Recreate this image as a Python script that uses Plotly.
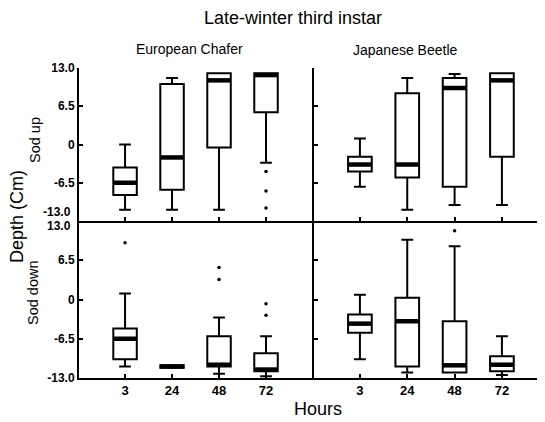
import plotly.graph_objects as go
from plotly.subplots import make_subplots

# categories
hours = ["3", "24", "48", "72"]
pos = [1, 2, 3, 4]
y_tickvals = [-13, -6.5, 0, 6.5, 13]
y_ticktext = ["-13.0", "-6.5", "0", "6.5", "13.0"]

# European Chafer, sod up
ec_up_q1 = [-8.6, -7.7, -0.5, 5.5]
ec_up_med = [-6.5, -2.2, 10.9, 11.8]
ec_up_q3 = [-3.9, 10.3, 12.1, 12.1]
ec_up_lo = [-11.1, -11.1, -11.1, -3.1]
ec_up_hi = [0.0, 11.3, 12.1, 12.1]
ec_up_out_x = [4, 4, 4]
ec_up_out_y = [-4.6, -7.9, -10.8]

# Japanese Beetle, sod up
jb_up_q1 = [-4.6, -5.6, -7.2, -2.1]
jb_up_med = [-3.4, -3.4, 9.6, 10.9]
jb_up_q3 = [-2.1, 8.7, 11.3, 12.1]
jb_up_lo = [-7.2, -11.1, -10.3, -10.3]
jb_up_hi = [1.0, 11.3, 12.0, 12.1]

# European Chafer, sod down
ec_dn_q1 = [-9.9, -11.3, -11.1, -11.9]
ec_dn_med = [-6.5, -11.1, -10.8, -11.6]
ec_dn_q3 = [-4.8, -10.9, -6.1, -8.9]
ec_dn_lo = [-11.1, -11.3, -12.3, -12.7]
ec_dn_hi = [1.0, -10.9, -3.0, -6.1]
ec_dn_out_x = [1, 3, 3, 4, 4]
ec_dn_out_y = [9.4, 5.3, 3.3, -0.7, -2.6]

# Japanese Beetle, sod down
jb_dn_q1 = [-5.5, -11.1, -12.1, -11.9]
jb_dn_med = [-4.0, -3.6, -10.9, -10.8]
jb_dn_q3 = [-2.5, 0.3, -3.6, -9.4]
jb_dn_lo = [-9.9, -12.1, -12.1, -12.5]
jb_dn_hi = [0.8, 9.9, 8.8, -6.1]
jb_dn_out_x = [3]
jb_dn_out_y = [11.4]

# the page body adds an 8px margin, so the figure is drawn 8px smaller
PAGE_OFF = 8
W, H = 545 - PAGE_OFF, 422 - PAGE_OFF
L, R, T, B = 79 - PAGE_OFF, 0, 68 - PAGE_OFF, 44
PW, PH = W - L - R, H - T - B
FONT = "Liberation Sans, Arial, sans-serif"


# helpers take pixel positions in the final screenshot
def px_x(px):
    return (px - 79) / PW


def px_y(py):
    return (378 - py) / PH


def add_panel(fig, row, col, q1, med, q3, lo, hi, out_x=None, out_y=None):
    fig.add_trace(go.Box(
        x=pos, q1=q1, median=med, q3=q3, lowerfence=lo, upperfence=hi,
        width=0.5, whiskerwidth=0.5, boxpoints=False,
        fillcolor="white", line=dict(color="black", width=2),
        showlegend=False, hoverinfo="skip",
    ), row=row, col=col)
    # thick median bar
    fig.add_trace(go.Scatter(
        x=pos, y=med, mode="markers",
        marker=dict(symbol="line-ew", size=16.5, line=dict(color="black", width=4.5)),
        showlegend=False, hoverinfo="skip",
    ), row=row, col=col)
    if out_x:
        fig.add_trace(go.Scatter(
            x=out_x, y=out_y, mode="markers",
            marker=dict(color="black", size=3.5),
            showlegend=False, hoverinfo="skip",
        ), row=row, col=col)


fig = make_subplots(rows=2, cols=2, horizontal_spacing=0.002, vertical_spacing=0)

add_panel(fig, 1, 1, ec_up_q1, ec_up_med, ec_up_q3, ec_up_lo, ec_up_hi, ec_up_out_x, ec_up_out_y)
add_panel(fig, 1, 2, jb_up_q1, jb_up_med, jb_up_q3, jb_up_lo, jb_up_hi)
add_panel(fig, 2, 1, ec_dn_q1, ec_dn_med, ec_dn_q3, ec_dn_lo, ec_dn_hi, ec_dn_out_x, ec_dn_out_y)
add_panel(fig, 2, 2, jb_dn_q1, jb_dn_med, jb_dn_q3, jb_dn_lo, jb_dn_hi, jb_dn_out_x, jb_dn_out_y)

x_left = [0, px_x(313)]
x_right = [px_x(314), 1]
y_top = [px_y(221), 1]
y_bot = [0, px_y(221)]

axis_common = dict(showline=True, linecolor="black", linewidth=2, ticks="inside",
                   ticklen=4, tickwidth=1.5, tickcolor="black", showgrid=False,
                   zeroline=False, automargin=False)
tickfont = dict(family=FONT, size=12, color="black", weight="bold")

for r, c, xd, yd in [(1, 1, x_left, y_top), (1, 2, x_right, y_top),
                     (2, 1, x_left, y_bot), (2, 2, x_right, y_bot)]:
    xr = [0.02, 5.0] if c == 1 else [0.03, 4.91]
    fig.update_xaxes(domain=xd, range=xr, tickvals=pos, ticktext=hours,
                     showticklabels=(r == 2), ticklabelstandoff=-1,
                     tickfont=dict(family=FONT, size=13, color="black", weight="bold"),
                     **axis_common, row=r, col=c)
    # boundary labels (-13.0 top / 13.0 bottom) drawn separately so they don't overlap
    if r == 1:
        tt = ["" if v == -13 else t for v, t in zip(y_tickvals, y_ticktext)]
    else:
        tt = ["" if v == 13 else t for v, t in zip(y_tickvals, y_ticktext)]
    fig.update_yaxes(domain=yd, range=[-13, 13], tickvals=y_tickvals, ticktext=tt,
                     showticklabels=(c == 1), tickfont=tickfont, ticklabelstandoff=0,
                     **axis_common, row=r, col=c)

annotations = [
    dict(text="Late-winter third instar", x=px_x(293), y=px_y(18), font=dict(size=18)),
    dict(text="European Chafer", x=px_x(189), y=px_y(49), font=dict(size=14)),
    dict(text="Japanese Beetle", x=px_x(405), y=px_y(50), font=dict(size=14)),
    dict(text="Depth (Cm)", x=px_x(17), y=px_y(217), textangle=-90, font=dict(size=18)),
    dict(text="Sod up", x=px_x(35), y=px_y(140), textangle=-90, font=dict(size=14.5)),
    dict(text="Sod down", x=px_x(33), y=px_y(293), textangle=-90, font=dict(size=14.5)),
    dict(text="Hours", x=px_x(318), y=px_y(409), font=dict(size=18)),
]
for a in annotations:
    a.update(xref="paper", yref="paper", showarrow=False, xanchor="center", yanchor="middle")
    a["font"].update(family=FONT, color="black")
    fig.add_annotation(**a)

fig.add_annotation(text=y_ticktext[0], xref="paper", yref="y", x=px_x(73), y=-13, yshift=9,
                   showarrow=False, xanchor="right", yanchor="middle", font=tickfont)
fig.add_annotation(text=y_ticktext[-1], xref="paper", yref="y3", x=px_x(73), y=13, yshift=-5,
                   showarrow=False, xanchor="right", yanchor="middle", font=tickfont)

fig.update_layout(width=W, height=H, margin=dict(l=L, r=R, t=T, b=B),
                  paper_bgcolor="white", plot_bgcolor="white", showlegend=False)

fig.write_html("out.html")
